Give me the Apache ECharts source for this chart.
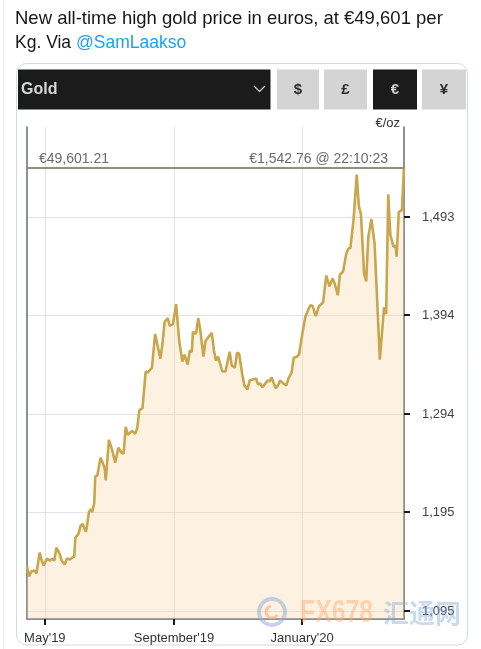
<!DOCTYPE html>
<html>
<head>
<meta charset="utf-8">
<script src="https://cdn.jsdelivr.net/npm/echarts@6/dist/echarts.min.js"></script>
<style>
html,body{margin:0;padding:0;background:#fff;}
#chart{width:481px;height:649px;}
</style>
</head>
<body>
<div id="chart"></div>
<script>
// ---- data ----
const dates = [
'2019-04-14','2019-04-16','2019-04-18','2019-04-21','2019-04-23','2019-04-26','2019-04-28','2019-04-30',
'2019-05-03','2019-05-06','2019-05-08','2019-05-10','2019-05-12','2019-05-15','2019-05-17','2019-05-18',
'2019-05-20','2019-05-22','2019-05-25','2019-05-27','2019-05-29','2019-05-30','2019-06-02','2019-06-04',
'2019-06-06','2019-06-09','2019-06-10','2019-06-12','2019-06-14','2019-06-15','2019-06-17','2019-06-18',
'2019-06-20','2019-06-23','2019-06-25','2019-06-27','2019-06-28','2019-07-01','2019-07-04','2019-07-07',
'2019-07-10','2019-07-13','2019-07-15','2019-07-17','2019-07-19','2019-07-23','2019-07-26','2019-07-28',
'2019-07-30','2019-08-02','2019-08-05','2019-08-07','2019-08-11','2019-08-14','2019-08-16','2019-08-19',
'2019-08-21','2019-08-23','2019-08-26','2019-08-28','2019-08-31','2019-09-03','2019-09-06','2019-09-07',
'2019-09-09','2019-09-11','2019-09-14','2019-09-16','2019-09-18','2019-09-19','2019-09-22','2019-09-24',
'2019-09-26','2019-09-29','2019-10-01','2019-10-04','2019-10-07','2019-10-09','2019-10-11','2019-10-13',
'2019-10-17','2019-10-20','2019-10-24','2019-10-26','2019-10-29','2019-10-31','2019-11-02','2019-11-05',
'2019-11-07','2019-11-10','2019-11-12','2019-11-15','2019-11-18','2019-11-20','2019-11-22','2019-11-24',
'2019-11-27','2019-11-29','2019-12-01','2019-12-03','2019-12-05','2019-12-07','2019-12-09','2019-12-11',
'2019-12-14','2019-12-17','2019-12-19','2019-12-22','2019-12-24','2019-12-27','2019-12-29','2020-01-01',
'2020-01-04','2020-01-07','2020-01-09','2020-01-11','2020-01-14','2020-01-17','2020-01-21','2020-01-24',
'2020-01-27','2020-01-30','2020-02-01','2020-02-04','2020-02-06','2020-02-09','2020-02-12','2020-02-14',
'2020-02-16','2020-02-19','2020-02-22','2020-02-24','2020-02-26','2020-02-29','2020-03-02','2020-03-04',
'2020-03-07','2020-03-10','2020-03-15','2020-03-19','2020-03-21','2020-03-23','2020-03-25','2020-03-28',
'2020-03-30','2020-03-31','2020-04-02','2020-04-05','2020-04-07'
];
const prices = [
1140,1130,1135,1136,1133,1154,1146,1141,
1148,1146,1148,1146,1159,1153,1146,1145,
1142,1148,1147,1149,1150,1169,1173,1181,
1183,1175,1180,1195,1198,1195,1204,1231,
1232,1250,1245,1239,1227,1268,1258,1245,
1260,1255,1254,1281,1273,1277,1274,1280,
1298,1300,1337,1336,1341,1375,1365,1350,
1365,1387,1391,1383,1385,1405,1367,1365,
1347,1354,1344,1358,1357,1377,1375,1391,
1379,1352,1368,1372,1376,1358,1348,1352,
1337,1337,1357,1343,1341,1356,1355,1334,
1323,1319,1328,1329,1330,1324,1325,1321,
1325,1328,1327,1331,1325,1320,1323,1328,
1325,1323,1330,1336,1351,1352,1354,1374,
1392,1400,1404,1403,1393,1403,1407,1434,
1423,1431,1426,1414,1435,1438,1456,1461,
1462,1491,1536,1504,1496,1436,1428,1473,
1491,1466,1349,1402,1395,1516,1475,1463,
1464,1453,1498,1500,1542.76
];
const xTickDates = ['2019-05-01', '2019-09-01', '2020-01-01'];
const xTickLabels = ["May'19", "September'19", "January'20"];
const yTickValues = [1095, 1195, 1294, 1394, 1493];
const yMin = 1087, yMax = 1584;
const priceOz = 1542.76;
const priceKgLabel = '€49,601.21';
const priceOzLabel = '€1,542.76 @ 22:10:23';
const tweetLine1 = 'New all-time high gold price in euros, at €49,601 per';
const tweetLine2a = 'Kg. Via ';
const tweetLine2b = '@SamLaakso';
const metals = ['Gold'];
const currencies = ['$', '£', '€', '¥'];
const activeCurrency = '€';

// ---- chart ----
const FONT = '"Liberation Sans", Arial, Helvetica, sans-serif';
const chart = echarts.init(document.getElementById('chart'));
const parse = s => +echarts.time.parse(s);
const xTickTs = xTickDates.map(parse);

const btnX = [277, 324, 373, 422];
const btnW = [42, 43, 44, 44];
const graphic = [
  {type:'rect', shape:{x:3, y:0, width:1, height:649}, style:{fill:'#e9eef1'}, silent:true},
  {type:'text', x:15, y:19, style:{text:tweetLine1, font:'18.5px ' + FONT, fill:'#14171a', align:'left', verticalAlign:'middle'}},
  {type:'text', x:15, y:43, style:{text:'{a|' + tweetLine2a + '}{b|' + tweetLine2b + '}', align:'left', verticalAlign:'middle',
     rich:{a:{font:'17.5px ' + FONT, fill:'#14171a'}, b:{font:'17.5px ' + FONT, fill:'#1da1f2'}}}},
  {type:'rect', shape:{x:16.5, y:63.5, width:451, height:581.5, r:10}, style:{fill:'none', stroke:'#d3dbe0', lineWidth:1}, silent:true},
  {type:'rect', shape:{x:18, y:69.5, width:252.5, height:40}, style:{fill:'#1b1b1b'}},
  {type:'text', x:21, y:89.5, style:{text:metals[0], font:'bold 16px ' + FONT, fill:'#d6d6d6', align:'left', verticalAlign:'middle'}},
  {type:'polyline', shape:{points:[[254,86],[259.5,91.5],[265,86]]}, style:{stroke:'#d6d6d6', lineWidth:1.2, fill:null}}
];
currencies.forEach((c, i) => {
  const active = c === activeCurrency;
  graphic.push({type:'rect', shape:{x:btnX[i], y:69.5, width:btnW[i], height:40}, style:{fill: active ? '#1b1b1b' : '#d4d4d4'}});
  graphic.push({type:'text', x:btnX[i] + btnW[i] / 2, y:90, style:{text:c, font:'bold 15px ' + FONT, fill: active ? '#cfcfcf' : '#2b2b2b', align:'center', verticalAlign:'middle'}});
});
// watermark of the reposting site
graphic.push({type:'circle', z:100, shape:{cx:272, cy:612, r:13}, style:{fill:'none', stroke:'rgba(150,175,210,0.55)', lineWidth:4}, silent:true});
graphic.push({type:'arc', z:100, shape:{cx:272, cy:612, r:6, startAngle:0.5, endAngle:4.5}, style:{fill:'none', stroke:'rgba(245,170,120,0.6)', lineWidth:3}, silent:true});
graphic.push({type:'text', z:100, x:300, y:613, scaleX:0.8, style:{text:'FX678', font:'bold 31px ' + FONT, fill:'rgba(250,170,110,0.45)', align:'left', verticalAlign:'middle'}, silent:true});
graphic.push({type:'text', z:100, x:383, y:613, style:{text:'汇通网', font:'bold 26px "Noto Sans CJK SC", sans-serif', fill:'rgba(120,165,220,0.40)', align:'left', verticalAlign:'middle'}, silent:true});

const option = {
  animation: false,
  textStyle: {fontFamily: FONT},
  graphic: graphic,
  grid: {left:27, right:77, top:127, bottom:30, containLabel:false},
  xAxis: {
    type:'value', min: parse(dates[0]), max: parse(dates[dates.length - 1]),
    axisLine:{show:true, onZero:false, lineStyle:{color:'#6b6b6b', width:1.5}},
    axisTick:{show:true, customValues:xTickTs, length:6, lineStyle:{color:'#1a1a1a', width:2}},
    axisLabel:{show:true, customValues:xTickTs, color:'#333', fontSize:13, margin:13,
      formatter: v => { const i = xTickTs.indexOf(+v); return i >= 0 ? xTickLabels[i] : ''; }},
    splitLine:{show:true, lineStyle:{color:'#e3e3e3', width:1}}
  },
  yAxis: [{
    type:'value', position:'right', min:yMin, max:yMax,
    name:'€/oz', nameLocation:'end', nameGap:4,
    nameTextStyle:{color:'#333', fontSize:13, align:'right', verticalAlign:'middle', padding:[0,4,0,0]},
    axisLine:{show:true, lineStyle:{color:'#6b6b6b', width:1.5}},
    axisTick:{show:true, customValues:yTickValues, length:6, lineStyle:{color:'#1a1a1a', width:2}},
    axisLabel:{show:true, customValues:yTickValues, color:'#444', fontSize:13, margin:18,
      formatter: v => Number(v).toLocaleString('en-US')},
    splitLine:{show:true, lineStyle:{color:'#e3e3e3', width:1}}
  }, {
    type:'value', position:'left', min:yMin, max:yMax,
    axisLine:{show:true, lineStyle:{color:'#6b6b6b', width:1.5}},
    axisTick:{show:false}, axisLabel:{show:false}, splitLine:{show:false}
  }],
  series: [{
    type:'line', yAxisIndex:0,
    data: dates.map((d, i) => [parse(d), prices[i]]),
    showSymbol:false, symbol:'none',
    lineStyle:{color:'#c9a64b', width:2.6},
    areaStyle:{color:'rgba(249,212,155,0.42)'},
    markLine:{
      silent:true, symbol:['none','none'],
      lineStyle:{color:'#8a8a76', width:1.5, type:'solid'},
      label:{color:'#6a6a6a', fontSize:14},
      data:[
        {yAxis:priceOz, label:{position:'insideStartTop', formatter:priceKgLabel, distance:[12, 2]}},
        {yAxis:priceOz, label:{position:'insideEndTop', formatter:priceOzLabel, distance:[16, 2]}}
      ]
    }
  }]
};
chart.setOption(option);
</script>
</body>
</html>
